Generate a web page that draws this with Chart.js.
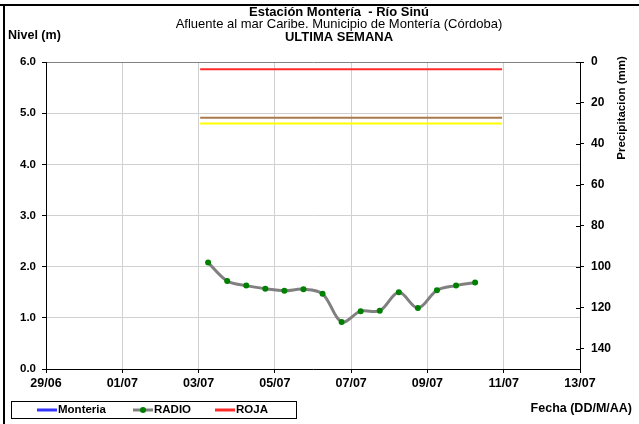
<!DOCTYPE html>
<html>
<head>
<meta charset="utf-8">
<script src="https://cdn.jsdelivr.net/npm/chart.js@4/dist/chart.umd.min.js"></script>
<style>
  html, body { margin: 0; padding: 0; background: #ffffff; }
  #wrap { width: 639px; height: 424px; position: relative; }
</style>
</head>
<body>
<div id="wrap"><canvas id="c" width="639" height="424"></canvas></div>
<script>
// ---- Data ----
const titleMain = 'Estación Montería  - Río Sinú';
const titleSub = 'Afluente al mar Caribe. Municipio de Montería (Córdoba)';
const titlePeriod = 'ULTIMA SEMANA';
const leftAxisTitle = 'Nivel (m)';
const rightAxisTitle = 'Precipitacion (mm)';
const xAxisTitle = 'Fecha (DD/M/AA)';

const xTickLabels = ['29/06', '01/07', '03/07', '05/07', '07/07', '09/07', '11/07', '13/07'];
const levelTicks = [0, 1, 2, 3, 4, 5, 6];
const precipTicks = [0, 20, 40, 60, 80, 100, 120, 140];

const radioTimes = ['03/07 06h', '03/07 18h', '04/07 06h', '04/07 18h', '05/07 06h', '05/07 18h',
  '06/07 06h', '06/07 18h', '07/07 06h', '07/07 18h', '08/07 06h', '08/07 18h',
  '09/07 06h', '09/07 18h', '10/07 06h'];
const radioLevels = [2.08, 1.72, 1.63, 1.57, 1.53, 1.56, 1.47, 0.92, 1.13, 1.14, 1.50, 1.19, 1.54, 1.63, 1.69];

const monteriaTimes = [];
const monteriaLevels = [];

const thresholdTimes = ['03/07 01h', '10/07 23h'];
const rojaLevel = 5.86;
const naranjaLevel = 4.91;
const amarillaLevel = 4.80;

// ---- Helpers: convert 'DD/MM HHh' to days after 29/06 ----
function toDays(s) {
  const m = s.match(/(\d+)\/(\d+)(?:\s+(\d+)h)?/);
  const d = +m[1], mo = +m[2], h = m[3] ? +m[3] : 0;
  const base = mo === 6 ? d - 29 : d + 1;
  return base + h / 24;
}
const xMin = toDays(xTickLabels[0]);
const xMax = toDays(xTickLabels[xTickLabels.length - 1]);
const labelByDay = {};
xTickLabels.forEach(l => { labelByDay[toDays(l)] = l; });

const pts = (times, vals) => times.map((t, i) => ({ x: toDays(t), y: vals[i] }));
const flat = (times, v) => times.map(t => ({ x: toDays(t), y: v }));

const FONT = "'Liberation Sans', Arial, sans-serif";

const decorPlugin = {
  id: 'decor',
  afterDraw(chart) {
    const ctx = chart.ctx;
    const ca = chart.chartArea;
    ctx.save();
    // frame (top & left)
    ctx.fillStyle = '#000';
    ctx.fillRect(0, 4, 639, 2);
    ctx.fillRect(3, 4, 2, 420);

    // titles
    ctx.fillStyle = '#000';
    ctx.textAlign = 'center';
    ctx.textBaseline = 'middle';
    ctx.font = 'bold 13px ' + FONT;
    ctx.fillText(titleMain, 339, 12);
    ctx.font = '13px ' + FONT;
    ctx.fillText(titleSub, 339, 24.5);
    ctx.font = 'bold 13px ' + FONT;
    ctx.fillText(titlePeriod, 339, 37);

    ctx.textAlign = 'left';
    ctx.font = 'bold 12.5px ' + FONT;
    ctx.fillText(leftAxisTitle, 8, 36);

    ctx.textAlign = 'right';
    ctx.font = 'bold 12.5px ' + FONT;
    ctx.fillText(xAxisTitle, 632, 409);

    // right axis title rotated
    ctx.save();
    ctx.translate(622, 108);
    ctx.rotate(-Math.PI / 2);
    ctx.textAlign = 'center';
    ctx.font = 'bold 11.5px ' + FONT;
    ctx.fillText(rightAxisTitle, 0, 0);
    ctx.restore();

    // right axis inward tick marks
    const y1 = chart.scales.y1;
    ctx.strokeStyle = '#000';
    ctx.lineWidth = 1;
    y1.ticks.forEach(t => {
      const yy = Math.round(y1.getPixelForValue(t.value)) + 0.5;
      ctx.beginPath();
      ctx.moveTo(ca.right - 4, yy);
      ctx.lineTo(ca.right, yy);
      ctx.stroke();
    });

    // legend box
    ctx.strokeStyle = '#000';
    ctx.lineWidth = 1;
    ctx.strokeRect(11.5, 401.5, 285, 17);
    const items = chart.data.datasets.filter(d => d.inLegend);
    const xs = [37, 133, 215];
    items.forEach((d, i) => {
      const x0 = xs[i];
      ctx.strokeStyle = d.borderColor;
      ctx.lineWidth = 3;
      ctx.beginPath();
      ctx.moveTo(x0, 410);
      ctx.lineTo(x0 + 20, 410);
      ctx.stroke();
      if (d.pointRadius > 0) {
        ctx.fillStyle = d.pointBackgroundColor;
        ctx.beginPath();
        ctx.arc(x0 + 10, 410, 3, 0, Math.PI * 2);
        ctx.fill();
      }
      ctx.fillStyle = '#000';
      ctx.font = 'bold 11.5px ' + FONT;
      ctx.textAlign = 'left';
      ctx.textBaseline = 'middle';
      ctx.fillText(d.label, x0 + 21, 410);
    });
    ctx.restore();
  }
};

new Chart(document.getElementById('c'), {
  type: 'line',
  data: {
    datasets: [
      { label: 'Monteria', inLegend: true, data: pts(monteriaTimes, monteriaLevels),
        borderColor: '#3333ff', backgroundColor: '#3333ff', borderWidth: 2, pointRadius: 0 },
      { label: 'RADIO', inLegend: true, data: pts(radioTimes, radioLevels),
        borderColor: '#808080', backgroundColor: '#008000', borderWidth: 3,
        pointRadius: 3, pointBackgroundColor: '#008000', pointBorderColor: '#008000', pointBorderWidth: 0,
        tension: 0.35 },
      { label: 'ROJA', inLegend: true, data: flat(thresholdTimes, rojaLevel),
        borderColor: '#ff2a2a', borderWidth: 2, pointRadius: 0 },
      { label: 'NARANJA', inLegend: false, data: flat(thresholdTimes, naranjaLevel),
        borderColor: '#a87a4c', borderWidth: 2, pointRadius: 0 },
      { label: 'AMARILLA', inLegend: false, data: flat(thresholdTimes, amarillaLevel),
        borderColor: '#ffff00', borderWidth: 2, pointRadius: 0 }
    ]
  },
  options: {
    responsive: false,
    animation: false,
    events: [],
    layout: { padding: { top: 62, left: 0, right: 0, bottom: 0 } },
    plugins: { legend: { display: false }, title: { display: false }, tooltip: { enabled: false } },
    scales: {
      x: {
        type: 'linear', min: xMin, max: xMax,
        afterFit(s) { s.height = 55; },
        afterBuildTicks(s) { s.ticks = xTickLabels.map(l => ({ value: toDays(l) })); },
        ticks: { color: '#000', font: { family: FONT, size: 12.5, weight: 'bold' }, padding: 3,
          maxRotation: 0, autoSkip: false, callback: v => labelByDay[v] || '' },
        grid: { color: '#d0d0d0', lineWidth: 1, tickLength: 4, tickColor: '#000' },
        border: { color: '#000', width: 1 }
      },
      y: {
        position: 'left', min: 0, max: 6,
        afterFit(s) { s.width = 46; },
        afterBuildTicks(s) { s.ticks = levelTicks.map(v => ({ value: v })); },
        ticks: { color: '#000', font: { family: FONT, size: 11.5, weight: 'bold' }, padding: 6,
          callback: v => Number(v).toFixed(1) },
        grid: { color: c => (c.tick && c.tick.value === 6 ? '#808080' : '#d0d0d0'), lineWidth: 1, tickLength: 4, tickColor: '#000' },
        border: { color: '#000', width: 1 }
      },
      y1: {
        position: 'right', min: 0, max: 150, reverse: true,
        afterFit(s) { s.width = 59; },
        afterBuildTicks(s) { s.ticks = precipTicks.map(v => ({ value: v })); },
        ticks: { color: '#000', font: { family: FONT, size: 12, weight: 'bold' }, padding: 7,
          callback: v => String(v) },
        grid: { drawOnChartArea: false, tickLength: 4, tickColor: '#000' },
        border: { color: '#000', width: 1 }
      }
    }
  },
  plugins: [decorPlugin]
});
</script>
</body>
</html>
